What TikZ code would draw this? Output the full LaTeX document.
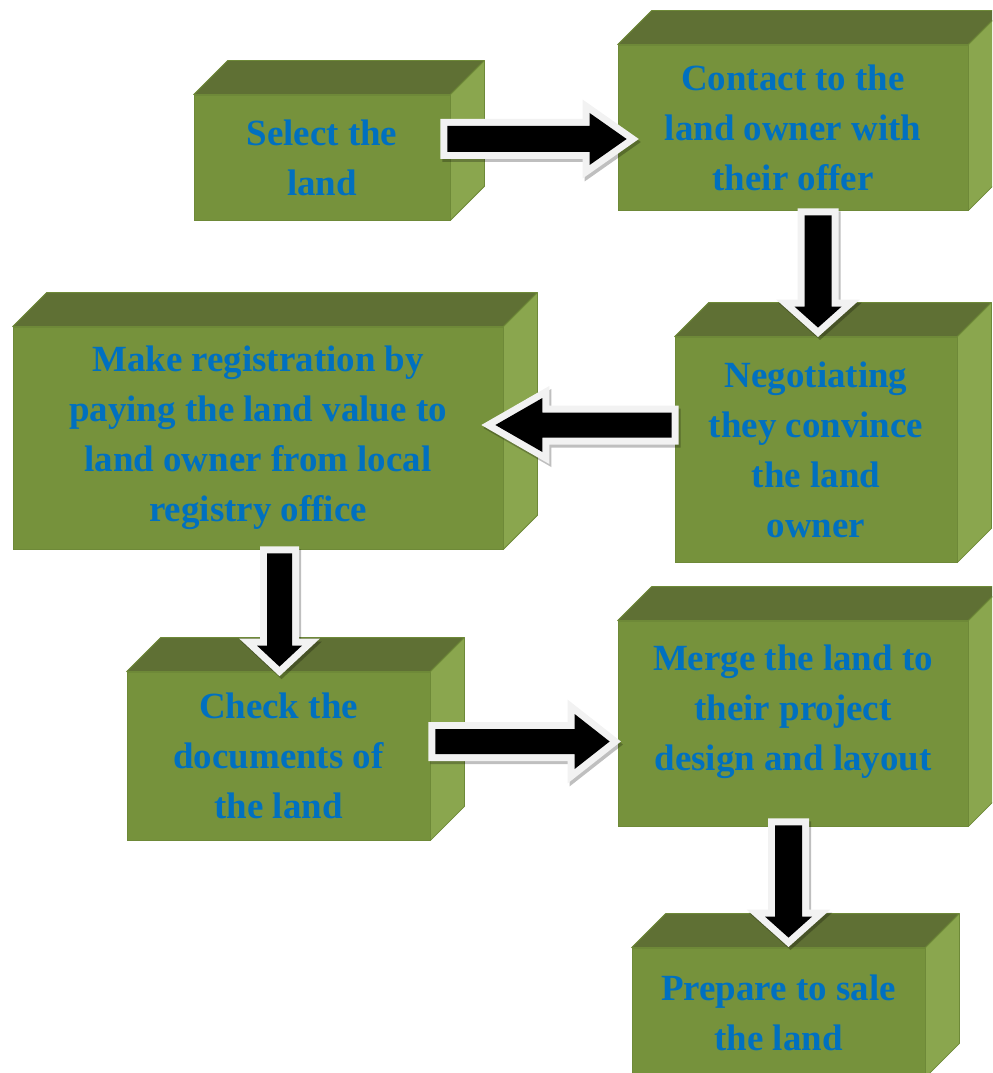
\documentclass[tikz,border=0pt]{standalone}
\usepackage{fontspec}
\setmainfont{Liberation Serif}
\usetikzlibrary{calc}
\definecolor{frontc}{HTML}{76923C}
\definecolor{topc}{HTML}{5F7034}
\definecolor{sidec}{HTML}{8AA64E}
\definecolor{edgec}{HTML}{6E8938}
\definecolor{txtblue}{HTML}{0070C0}
\definecolor{bordc}{HTML}{F2F2F2}
\tikzset{
  box/.style={rectangle, fill=frontc, draw=edgec, line width=0.6pt, text=txtblue,
    font=\bfseries\fontsize{27.7pt}{37.5pt}\selectfont, align=center, inner sep=0pt},
  boxsize/.style 2 args={minimum width=#1*0.75pt, minimum height=#2*0.75pt},
  topface/.style={fill=topc, draw=edgec, line width=0.6pt, line join=round},
  sideface/.style={fill=sidec, draw=edgec, line width=0.6pt, line join=round},
  arrowshadow/.style={fill=black, draw=black, opacity=0.25, line width=10.5pt, line join=miter, miter limit=10},
  arrowborder/.style={draw=bordc, line width=10.5pt, line join=miter, miter limit=10},
  arrowfill/.style={fill=black}
}
\newcommand\cubefaces[1]{%
  \path[topface] (#1.north west) -- ++(34,-34) -- ($(#1.north east)+(34,-34)$) -- (#1.north east) -- cycle;
  \path[sideface] (#1.north east) -- ++(34,-34) -- ($(#1.south east)+(34,-34)$) -- (#1.south east) -- cycle;
}
\newcommand\blockarrow[5]{%
  \pgfmathsetmacro\bas{#3*0.75}\pgfmathsetmacro\bah{#4*0.75}\pgfmathsetmacro\bal{#5*0.75}%
  \coordinate (ba-s) at (#1);
  \coordinate (ba-e) at (#2);
  \coordinate (ba-h) at ($(ba-e)!\bal pt!(ba-s)$);
  \coordinate (p1) at ($(ba-s)!\bas pt!90:(ba-e)$);
  \coordinate (p2) at ($(ba-h)!\bas pt!90:(ba-e)$);
  \coordinate (p3) at ($(ba-h)!\bah pt!90:(ba-e)$);
  \coordinate (p5) at ($(ba-h)!\bah pt!-90:(ba-e)$);
  \coordinate (p6) at ($(ba-h)!\bas pt!-90:(ba-e)$);
  \coordinate (p7) at ($(ba-s)!\bas pt!-90:(ba-e)$);
  \path[arrowshadow, transform canvas={xshift=1.5pt, yshift=-2.25pt}] (p1) -- (p2) -- (p3) -- (ba-e) -- (p5) -- (p6) -- (p7) -- cycle;
  \path[arrowborder] (p1) -- (p2) -- (p3) -- (ba-e) -- (p5) -- (p6) -- (p7) -- cycle;
  \path[arrowfill] (p1) -- (p2) -- (p3) -- (ba-e) -- (p5) -- (p6) -- (p7) -- cycle;
}
\begin{document}
\begin{tikzpicture}[x=0.75pt, y=-0.75pt]
\useasboundingbox (0,0) rectangle (992,1073);
\clip (0,0) rectangle (992,1073);

\node[box, boxsize={256}{125}] (b1) at (322,157.5) {Select the\\land};
\cubefaces{b1}
\node[box, boxsize={350}{165}] (b2) at (793,127.5) {Contact to the\\land owner with\\their offer};
\cubefaces{b2}
\node[box, boxsize={282}{225}] (b3) at (816,449.5) {Negotiating\\they convince\\the land\\owner};
\cubefaces{b3}
\node[box, boxsize={490}{222}] (b4) at (258,438) {Make registration by\\paying the land value to\\land owner from local\\registry office};
\cubefaces{b4}
\node[box, boxsize={303}{168}] (b5) at (278.5,756) {Check the\\documents of\\the land};
\cubefaces{b5}
\node[box, boxsize={350}{205}] (b6) at (793,723.5) {Merge the land to\\their project\\design and layout\rule[-24pt]{0pt}{0pt}};
\cubefaces{b6}
\node[box, boxsize={293}{129}] (b7) at (778.5,1012.5) {Prepare to sale\\the land};
\cubefaces{b7}

\blockarrow{$(b1.east)+(-3,-18.5)$}{$(b2.west)+(9,11.5)$}{13}{26}{37}
\blockarrow{$(b2.south)+(25,5)$}{$(b3.north)+(2,-9)$}{13.5}{23.5}{21}
\blockarrow{$(b3.west)+(-3,-24.5)$}{$(b4.east)+(-8,-13)$}{12.5}{27}{47}
\blockarrow{$(b4.south)+(21.5,4)$}{$(b5.north)+(1,-5)$}{12.5}{22.5}{21}
\blockarrow{$(b5.east)+(5,-14.5)$}{$(b6.west)+(-8,18)$}{12.5}{27.5}{35}
\blockarrow{$(b6.south)+(-4.5,-1)$}{$(b7.north)+(10,-10)$}{13.5}{23.5}{21}
\end{tikzpicture}
\end{document}
